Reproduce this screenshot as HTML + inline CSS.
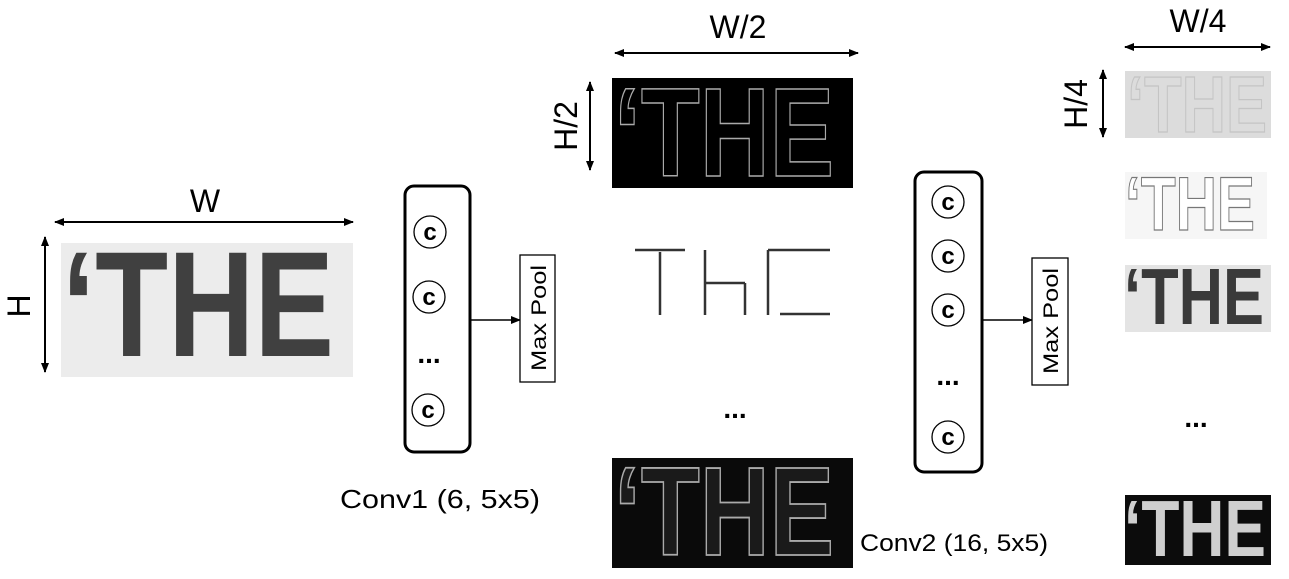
<!DOCTYPE html>
<html><head><meta charset="utf-8"><style>
html,body{margin:0;padding:0;background:#fff;}
svg{display:block;font-family:"Liberation Sans",Arial,sans-serif;}
</style></head><body>
<svg width="1289" height="579" viewBox="0 0 1289 579">
<defs>
<marker id="ah" markerWidth="10" markerHeight="10" refX="9" refY="5" orient="auto-start-reverse" markerUnits="userSpaceOnUse">
<path d="M0,1 L10,5 L0,9 Z" fill="#000"/></marker>
</defs>

<g>
<rect x="61" y="243" width="292" height="134" fill="#ececec"/>
<text x="62" y="356" font-size="150" font-weight="bold" fill="#404040" textLength="272" lengthAdjust="spacingAndGlyphs">‘THE</text>
</g>
<line x1="55" y1="222" x2="353" y2="222" stroke="#000" stroke-width="2" marker-start="url(#ah)" marker-end="url(#ah)"/>
<text x="205" y="212" font-size="32" text-anchor="middle">W</text>
<line x1="45" y1="237" x2="45" y2="372" stroke="#000" stroke-width="2" marker-start="url(#ah)" marker-end="url(#ah)"/>
<text transform="translate(30,306) rotate(-90)" font-size="32" text-anchor="middle">H</text>

<g>
<rect x="405" y="186" width="65" height="266" rx="9" fill="#fff" stroke="#000" stroke-width="3"/>
<g font-size="24" font-weight="bold" text-anchor="middle">
<circle cx="430" cy="232" r="16" fill="none" stroke="#000" stroke-width="1.3"/><text x="430" y="240">c</text>
<circle cx="429" cy="297" r="16" fill="none" stroke="#000" stroke-width="1.3"/><text x="429" y="305">c</text>
<text x="429" y="363" font-size="28">...</text>
<circle cx="428" cy="410" r="16" fill="none" stroke="#000" stroke-width="1.3"/><text x="428" y="418">c</text>
</g>
</g>
<line x1="470" y1="320" x2="520" y2="320" stroke="#000" stroke-width="1.5" marker-end="url(#ah)"/>
<rect x="520" y="255" width="35" height="127" fill="#fff" stroke="#000" stroke-width="1.3"/>
<text transform="translate(546,318) rotate(-90)" font-size="21" text-anchor="middle" textLength="106" lengthAdjust="spacingAndGlyphs">Max Pool</text>
<text x="340" y="508" font-size="26" textLength="200" lengthAdjust="spacingAndGlyphs">Conv1 (6, 5x5)</text>

<line x1="615" y1="53" x2="858" y2="53" stroke="#000" stroke-width="2" marker-start="url(#ah)" marker-end="url(#ah)"/>
<text x="738" y="38" font-size="32" text-anchor="middle">W/2</text>
<line x1="590" y1="82" x2="590" y2="170" stroke="#000" stroke-width="2" marker-start="url(#ah)" marker-end="url(#ah)"/>
<text transform="translate(577,126) rotate(-90)" font-size="32" text-anchor="middle">H/2</text>

<g>
<rect x="612" y="78" width="241" height="110" fill="#000"/>
<text x="614" y="176" font-size="126" font-weight="bold" fill="none" stroke="#aaa" stroke-width="1.5" textLength="220" lengthAdjust="spacingAndGlyphs">‘THE</text>
</g>
<g>
<rect x="612" y="232" width="241" height="92" fill="#fff"/>
<g stroke="#333" stroke-width="2.5">
<line x1="635" y1="250" x2="685" y2="250"/><line x1="660" y1="252" x2="660" y2="315"/>
<line x1="705" y1="250" x2="705" y2="315"/><line x1="705" y1="283" x2="745" y2="283"/>
<line x1="745" y1="283" x2="745" y2="315"/><line x1="768" y1="250" x2="768" y2="315"/>
<line x1="768" y1="250" x2="830" y2="250"/><line x1="780" y1="314" x2="830" y2="314"/>
</g>
</g>
<text x="735" y="418" font-size="28" font-weight="bold" text-anchor="middle">...</text>
<g>
<rect x="612" y="458" width="241" height="110" fill="#0a0a0a"/>
<text x="614" y="555" font-size="126" font-weight="bold" fill="#1a1a1a" stroke="#aaa" stroke-width="1.8" textLength="220" lengthAdjust="spacingAndGlyphs">‘THE</text>
</g>

<g>
<rect x="915" y="172" width="67" height="300" rx="9" fill="#fff" stroke="#000" stroke-width="3"/>
<g font-size="24" font-weight="bold" text-anchor="middle">
<circle cx="948" cy="202" r="16" fill="none" stroke="#000" stroke-width="1.3"/><text x="948" y="210">c</text>
<circle cx="948" cy="256" r="16" fill="none" stroke="#000" stroke-width="1.3"/><text x="948" y="264">c</text>
<circle cx="948" cy="310" r="16" fill="none" stroke="#000" stroke-width="1.3"/><text x="948" y="318">c</text>
<text x="948" y="385" font-size="28">...</text>
<circle cx="948" cy="437" r="16" fill="none" stroke="#000" stroke-width="1.3"/><text x="948" y="445">c</text>
</g>
</g>
<line x1="982" y1="320" x2="1032" y2="320" stroke="#000" stroke-width="1.5" marker-end="url(#ah)"/>
<rect x="1032" y="258" width="36" height="127" fill="#fff" stroke="#000" stroke-width="1.3"/>
<text transform="translate(1058,321) rotate(-90)" font-size="21" text-anchor="middle" textLength="106" lengthAdjust="spacingAndGlyphs">Max Pool</text>
<text x="860" y="551" font-size="24" textLength="188" lengthAdjust="spacingAndGlyphs">Conv2 (16, 5x5)</text>

<line x1="1125" y1="47" x2="1270" y2="47" stroke="#000" stroke-width="2" marker-start="url(#ah)" marker-end="url(#ah)"/>
<text x="1198" y="32" font-size="32" text-anchor="middle">W/4</text>
<line x1="1103" y1="70" x2="1103" y2="137" stroke="#000" stroke-width="2" marker-start="url(#ah)" marker-end="url(#ah)"/>
<text transform="translate(1087,104) rotate(-90)" font-size="32" text-anchor="middle">H/4</text>

<g>
<rect x="1125" y="71" width="146" height="67" fill="#dcdcdc"/>
<text x="1127" y="132" font-size="80" font-weight="bold" fill="none" stroke="#c4c4c4" stroke-width="1.3" textLength="140" lengthAdjust="spacingAndGlyphs">‘THE</text>
</g>
<g>
<rect x="1125" y="172" width="142" height="67" fill="#f6f6f6"/>
<text x="1125" y="230" font-size="76" font-weight="bold" fill="#fff" stroke="#777" stroke-width="1.2" textLength="130" lengthAdjust="spacingAndGlyphs">‘THE</text>
</g>
<g>
<rect x="1125" y="265" width="146" height="67" fill="#e4e4e4"/>
<text x="1124" y="324" font-size="80" font-weight="bold" fill="#3a3a3a" textLength="140" lengthAdjust="spacingAndGlyphs">‘THE</text>
</g>
<text x="1196" y="427" font-size="28" font-weight="bold" text-anchor="middle">...</text>
<g>
<rect x="1125" y="495" width="146" height="70" fill="#0c0c0c"/>
<text x="1124" y="556" font-size="80" font-weight="bold" fill="#cfcfcf" textLength="142" lengthAdjust="spacingAndGlyphs">‘THE</text>
</g>
</svg>
</body></html>
